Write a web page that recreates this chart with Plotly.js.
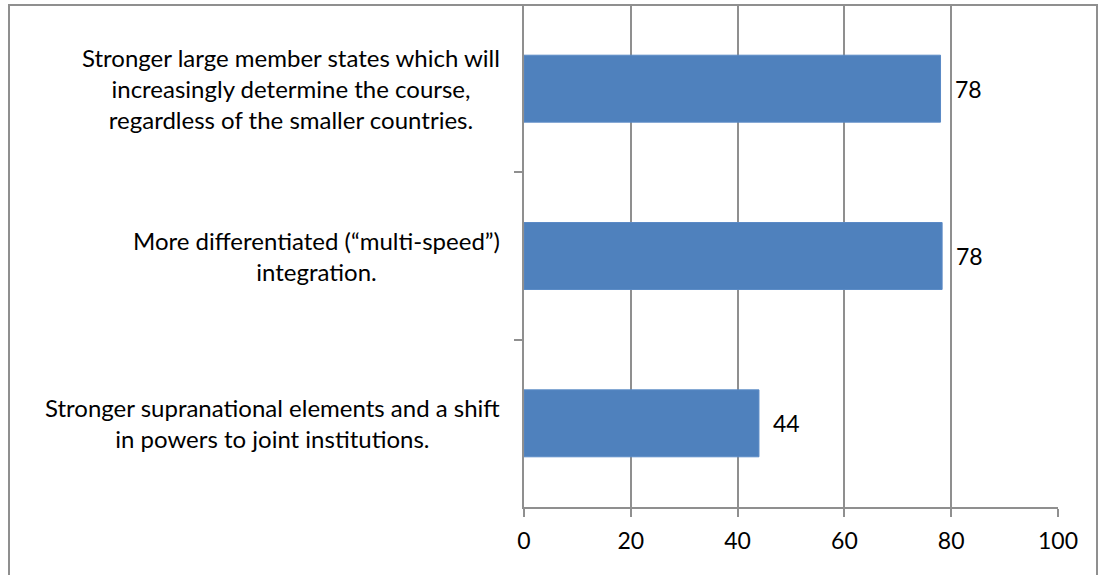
<!DOCTYPE html>
<html>
<head>
<meta charset="utf-8">
<script src="https://cdn.plot.ly/plotly-3.0.1.min.js"></script>
<style>
  html, body { margin: 0; padding: 0; background: #fff; overflow: hidden; }
  #chart { position: absolute; left: 0; top: 0; width: 1106px; height: 575px; }
  #frame { position: absolute; left: 8px; top: 4px; width: 1090px; height: 600px;
           border: 2px solid #8f8f8f; pointer-events: none; box-sizing: border-box; }
</style>
</head>
<body>
<div id="chart"></div>
<div id="frame"></div>
<script>
const categories = [
  "Stronger large member states which will<br>increasingly determine the course,<br>regardless of the smaller countries.",
  "More differentiated (\u201cmulti-speed\u201d)<br>integration.",
  "Stronger supranational elements and a shift<br>in powers to joint institutions."
];
const values = [78, 78.3, 44];
const valueLabels = ["78", "78", "44"];
const xTicks = [0, 20, 40, 60, 80, 100];

const FONT = "Lato, 'Open Sans', sans-serif";
const FS_CAT = 24;
const FS_NUM = 23;

const trace = {
  type: "bar",
  orientation: "h",
  y: categories,
  x: values,
  marker: { color: "#4f81bd", line: { color: "#5a8ac6", width: 1 } },
  hoverinfo: "skip"
};

const annotations = [];
categories.forEach((c, i) => {
  annotations.push({
    xref: "paper", yref: "y", x: 0, y: c,
    xanchor: "right", yanchor: "middle", xshift: -22,
    text: c, showarrow: false, align: "center",
    font: { family: FONT, size: FS_CAT, color: "#000" }
  });
  annotations.push({
    xref: "x", yref: "y", x: values[i], y: c,
    xanchor: "left", yanchor: "middle", xshift: 12,
    text: valueLabels[i], showarrow: false,
    font: { family: FONT, size: FS_NUM, color: "#000" }
  });
});

const layout = {
  width: 1106, height: 575,
  margin: { l: 524, r: 48, t: 5, b: 68, pad: 0 },
  paper_bgcolor: "rgba(0,0,0,0)",
  plot_bgcolor: "rgba(0,0,0,0)",
  bargap: 0.6,
  showlegend: false,
  font: { family: FONT, size: FS_NUM, color: "#000" },
  xaxis: {
    range: [0, 100], tickvals: xTicks, ticktext: xTicks.map(String),
    showgrid: true, gridcolor: "#8f8f8f", gridwidth: 2,
    showline: true, linecolor: "#8f8f8f", linewidth: 2,
    ticks: "outside", ticklen: 8, tickwidth: 2, tickcolor: "#8f8f8f",
    ticklabelstandoff: 4,
    zeroline: false, fixedrange: true,
    tickfont: { family: FONT, size: FS_NUM, color: "#000" }
  },
  yaxis: {
    type: "category", autorange: "reversed",
    showticklabels: false, showgrid: false,
    showline: true, linecolor: "#8f8f8f", linewidth: 2,
    ticks: "outside", ticklen: 8, tickwidth: 2, tickcolor: "#8f8f8f",
    tickson: "boundaries", zeroline: false, fixedrange: true
  },
  annotations: annotations,
  hovermode: false
};

Plotly.newPlot("chart", [trace], layout, { displayModeBar: false, staticPlot: true });
</script>
</body>
</html>
